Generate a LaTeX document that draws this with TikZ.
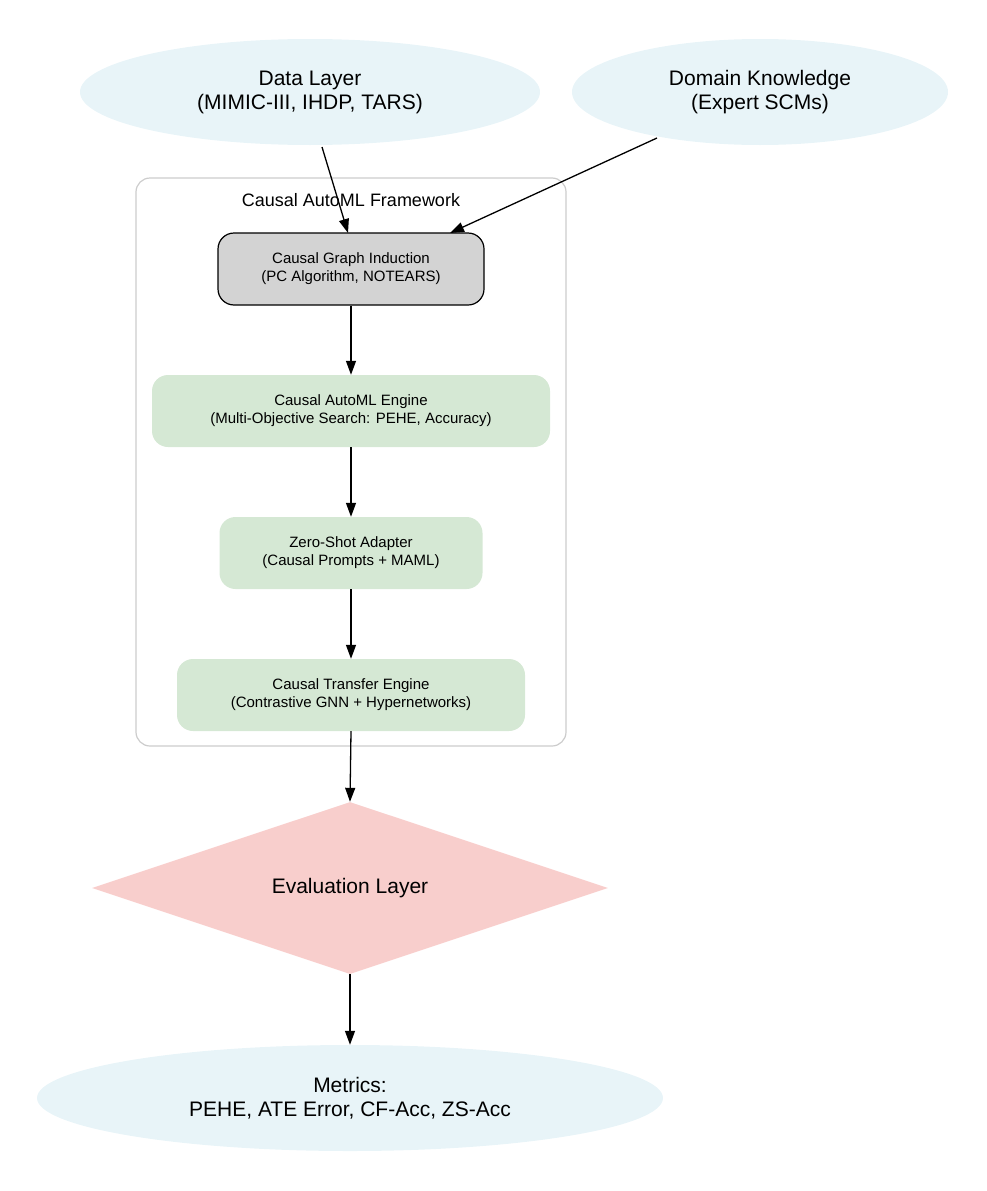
\documentclass[tikz,border=0pt]{standalone}
\usepackage{fontspec}
\setmainfont{Liberation Sans}
\usetikzlibrary{shapes.geometric,arrows.meta}
\definecolor{ell}{HTML}{E8F4F8}
\definecolor{grn}{HTML}{D5E8D4}
\definecolor{gry}{HTML}{D3D3D3}
\definecolor{pnk}{HTML}{F8CECC}
\begin{document}
\begin{tikzpicture}[x=1pt,y=-1pt,
  el/.style={ellipse,fill=ell,draw=none,align=center,font=\fontsize{21}{24}\selectfont,inner sep=0pt},
  bx/.style={rectangle,rounded corners=16pt,fill=grn,draw=none,align=center,font=\fontsize{15}{18}\selectfont,minimum height=72pt,inner sep=0pt},
  ar/.style={-{Triangle[length=14pt,width=10pt]},line width=1.3pt}]
\useasboundingbox (0,0) rectangle (986,1191);
\node[el,minimum width=460pt,minimum height=106pt] (data) at (310,92) {Data Layer\\(MIMIC-III, IHDP, TARS)};
\node[el,minimum width=376pt,minimum height=106pt] (dom) at (760,92) {Domain Knowledge\\(Expert SCMs)};
\draw[draw=gray!40,line width=1.2pt,rounded corners=14pt] (136,178) rectangle (566,746);
\node[font=\fontsize{18}{20}\selectfont] (lab) at (351,200) {Causal AutoML Framework};
\node[bx,fill=gry,draw=black,line width=1.2pt,minimum width=266pt] (cgi) at (351,269) {Causal Graph Induction\\(PC Algorithm, NOTEARS)};
\node[bx,minimum width=398pt] (eng) at (351,411) {Causal AutoML Engine\\(Multi-Objective Search: PEHE, Accuracy)};
\node[bx,minimum width=263pt] (zs) at (351,553) {Zero-Shot Adapter\\(Causal Prompts + MAML)};
\node[bx,minimum width=348pt] (tr) at (351,695) {Causal Transfer Engine\\(Contrastive GNN + Hypernetworks)};
\node[diamond,fill=pnk,minimum width=516pt,minimum height=172pt,inner sep=0pt,aspect=3,font=\fontsize{21}{24}\selectfont] (ev) at (350,888) {Evaluation Layer};
\node[el,minimum width=626pt,minimum height=106pt] (met) at (350,1098) {Metrics:\\PEHE, ATE Error, CF-Acc, ZS-Acc};
\coordinate (ds) at (322,147); \coordinate (de) at (348,233);
\coordinate (ks) at (657,138); \coordinate (ke) at (450,233);
\draw[ar] (ds) -- (de);
\draw[ar] (ks) -- (ke);
\draw[ar] (cgi) -- (eng);
\draw[ar] (eng) -- (zs);
\draw[ar] (zs) -- (tr);
\draw[ar] (tr.south) -- (ev.north);
\draw[ar] (ev.south) -- (met.north);
\end{tikzpicture}
\end{document}
